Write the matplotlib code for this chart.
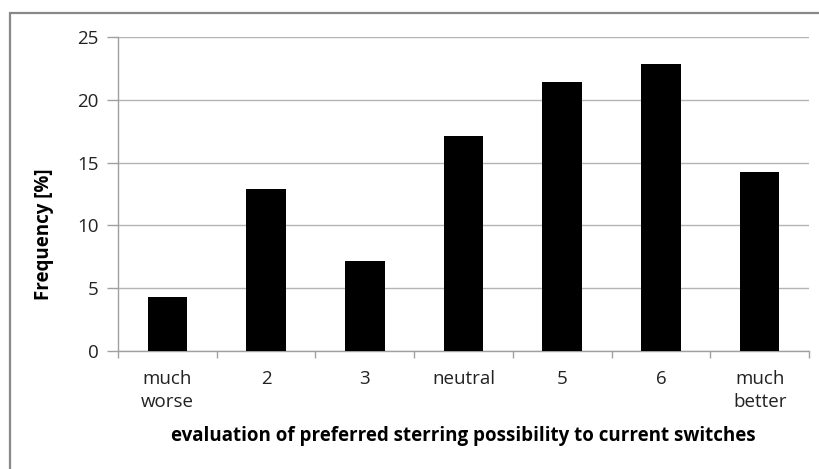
import matplotlib.pyplot as plt
from matplotlib.patches import Rectangle

# Data
categories = ['much\nworse', '2', '3', 'neutral', '5', '6', 'much\nbetter']
frequency = [4.29, 12.86, 7.14, 17.14, 21.43, 22.86, 14.29]
y_ticks = [0, 5, 10, 15, 20, 25]

plt.rcParams['font.family'] = ['Open Sans', 'DejaVu Sans']

fig = plt.figure(figsize=(8.2, 4.69), dpi=100)
ax = fig.add_axes([118 / 820, 1 - 351 / 469, (809 - 118) / 820, (351 - 37) / 469])

# outer chart frame (only top/left visible in the reference)
fig.patches.append(Rectangle((10 / 820, -0.1), 1.2, 1 - 13 / 469 + 0.1,
                             transform=fig.transFigure, fill=False,
                             edgecolor='#888888', linewidth=1.6))

x = list(range(len(categories)))
ax.bar(x, frequency, width=0.4, color='black', zorder=3)

ax.set_xlim(-0.5, len(categories) - 0.5)
ax.set_ylim(0, 25)
ax.set_yticks(y_ticks)
ax.yaxis.grid(True, color='#b4b4b4', linewidth=1.0, zorder=0)

ax.set_xticks(x)
ax.set_xticklabels(categories, fontsize=13.5, color='#222222', linespacing=1.3)
ax.set_xticks([i - 0.5 for i in range(len(categories) + 1)], minor=True)
ax.tick_params(axis='x', which='major', length=0, pad=14)
ax.tick_params(axis='x', which='minor', length=5, color='#a0a0a0', width=1)
ax.tick_params(axis='y', length=8, color='#a0a0a0', width=1, labelsize=13.5,
               labelcolor='#222222', pad=6)

for side in ['top', 'right']:
    ax.spines[side].set_visible(False)
for side in ['left', 'bottom']:
    ax.spines[side].set_color('#a0a0a0')
    ax.spines[side].set_linewidth(1)

ax.set_ylabel('Frequency [%]', fontsize=13.5, fontweight='bold')
ax.yaxis.set_label_coords(54 / 820, 0.5, transform=fig.transFigure)
ax.set_xlabel('evaluation of preferred sterring possibility to current switches',
              fontsize=13.5, fontweight='bold')
ax.xaxis.set_label_coords((118 + 809) / 2 / 820, 1 - 426 / 469,
                          transform=fig.transFigure)

fig.savefig('out.png', dpi=100)
